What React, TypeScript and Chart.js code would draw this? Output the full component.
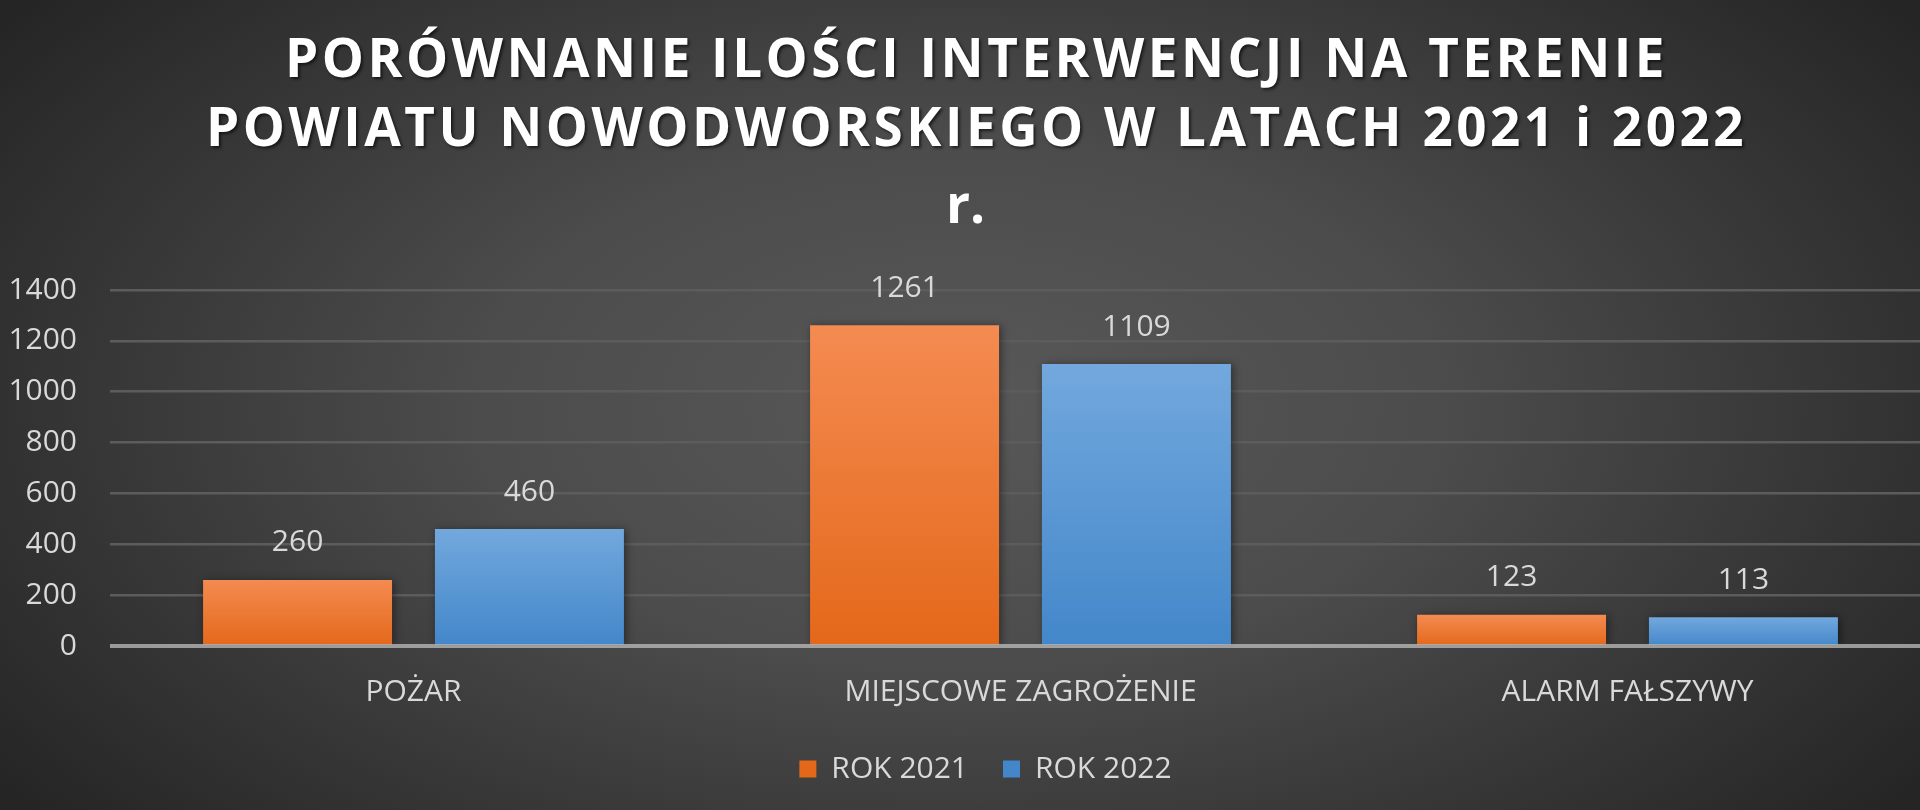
import React, { useEffect, useRef } from 'react'
import { Chart, registerables } from 'chart.js'

Chart.register(...registerables)

const categories = ['POŻAR', 'MIEJSCOWE ZAGROŻENIE', 'ALARM FAŁSZYWY']
const rok2021 = [260, 1261, 123]
const rok2022 = [460, 1109, 113]
const seriesNames = ['ROK 2021', 'ROK 2022']
const titleLines = ['PORÓWNANIE ILOŚCI INTERWENCJI NA TERENIE', 'POWIATU NOWODWORSKIEGO W LATACH 2021 i 2022']
const subtitleText = 'r.'

const FONT = "'Open Sans', 'DejaVu Sans', sans-serif"
const LABEL_COLOR = '#d9d9d9'

// each bar gets its own top-to-bottom gradient
const barGradient = (c: any, top: string, bottom: string, flat: string) => {
  const y = c.chart.scales?.y
  if (c.type !== 'data' || !y) return flat
  const y0 = y.getPixelForValue(c.raw)
  const y1 = y.getPixelForValue(0)
  if (!isFinite(y0) || !isFinite(y1) || y0 === y1) return flat
  const g = c.chart.ctx.createLinearGradient(0, y0, 0, y1)
  g.addColorStop(0, top)
  g.addColorStop(1, bottom)
  return g
}

// wrap a layout box's draw so it is nudged sideways (and optionally styled)
const shiftBox = (chart: any, box: any, dx: number, style?: (ctx: CanvasRenderingContext2D) => void) => {
  if (!box) return
  const orig = box.draw.bind(box)
  box.draw = (area: any) => {
    const ctx = chart.ctx
    ctx.save()
    ctx.translate(dx, 0)
    if (style) style(ctx)
    orig(area)
    ctx.restore()
  }
}

// spaced, shadowed title; soft shadow under the bars, zero line on top, value labels above
const barExtras = {
  id: 'barExtras',
  afterInit(chart: any) {
    shiftBox(chart, chart.titleBlock, 11, (ctx: any) => {
      ctx.letterSpacing = '3.5px'
      ctx.shadowColor = 'rgba(0,0,0,0.6)'
      ctx.shadowOffsetX = 2
      ctx.shadowOffsetY = 2
      ctx.shadowBlur = 3
    })
    shiftBox(chart, chart.legend, 20)
  },
  beforeDatasetsDraw(chart: any) {
    const ctx = chart.ctx
    ctx.save()
    ctx.shadowColor = 'rgba(0,0,0,0.45)'
    ctx.shadowBlur = 8
    ctx.shadowOffsetX = 2
    ctx.shadowOffsetY = 1
  },
  afterDatasetsDraw(chart: any) {
    const ctx = chart.ctx
    ctx.restore()
    const { left, right } = chart.chartArea
    const y0 = chart.scales.y.getPixelForValue(0)
    ctx.save()
    ctx.strokeStyle = 'rgba(190,190,190,0.75)'
    ctx.lineWidth = 4
    ctx.beginPath()
    ctx.moveTo(left, y0)
    ctx.lineTo(right, y0)
    ctx.stroke()
    ctx.font = `30px ${FONT}`
    ctx.fillStyle = LABEL_COLOR
    ctx.textAlign = 'center'
    ctx.textBaseline = 'middle'
    chart.data.datasets.forEach((ds: any, i: number) => {
      chart.getDatasetMeta(i).data.forEach((bar: any, j: number) => {
        ctx.fillText(String(ds.data[j]), bar.x, bar.y - 37)
      })
    })
    ctx.restore()
  },
}

const App = () => {
  const chartRef = useRef<HTMLCanvasElement>(null)

  useEffect(() => {
    if (!chartRef.current) return
    const ctx = chartRef.current.getContext('2d')
    if (!ctx) return

    const chart = new Chart(ctx, {
      type: 'bar',
      data: {
        labels: categories,
        datasets: [
          {
            label: seriesNames[0],
            data: rok2021,
            backgroundColor: (c: any) => barGradient(c, '#f48b51', '#e4681a', '#ef7a30'),
            categoryPercentage: 0.764,
            barPercentage: 0.815,
          },
          {
            label: seriesNames[1],
            data: rok2022,
            backgroundColor: (c: any) => barGradient(c, '#72a8dd', '#4387ca', '#5b98d4'),
            categoryPercentage: 0.764,
            barPercentage: 0.815,
          },
        ],
      },
      options: {
        animation: false,
        responsive: true,
        maintainAspectRatio: false,
        layout: { padding: { left: 0, right: 0, top: 0, bottom: 16 } },
        plugins: {
          title: {
            display: true,
            text: titleLines,
            color: '#ffffff',
            font: { family: FONT, size: 53, weight: 'bold', lineHeight: 69 / 53 },
            padding: { top: 27, bottom: 8.5 },
          },
          subtitle: {
            display: true,
            text: subtitleText,
            color: '#ffffff',
            font: { family: FONT, size: 53, weight: 'bold', lineHeight: 69 / 53 },
            padding: { top: 0, bottom: 47.5 },
          },
          legend: {
            position: 'bottom',
            labels: {
              color: LABEL_COLOR,
              font: { family: FONT, size: 30 },
              boxWidth: 17,
              boxHeight: 17,
              padding: 35,
            },
          },
          tooltip: { enabled: false },
        },
        scales: {
          x: {
            grid: { display: false },
            border: { display: false },
            ticks: { color: LABEL_COLOR, font: { family: FONT, size: 30 }, padding: 20 },
            afterFit: (scale: any) => { scale.height = 73 },
          },
          y: {
            min: 0,
            max: 1400,
            border: { display: false },
            grid: {
              drawTicks: false,
              color: (c: any) => (c.tick && c.tick.value === 0 ? 'rgba(0,0,0,0)' : '#5c5c5c'),
              lineWidth: 2.5,
            },
            ticks: {
              stepSize: 200,
              color: LABEL_COLOR,
              font: { family: FONT, size: 30 },
              padding: 33,
              callback: (v: any) => String(v),
            },
            afterFit: (scale: any) => { scale.width = 110 },
          },
        },
      },
      plugins: [barExtras],
    })

    return () => {
      chart.destroy()
    }
  }, [])

  return (
    <div
      style={{
        position: 'fixed',
        left: 0,
        top: 0,
        width: 1920,
        height: 810,
        overflow: 'hidden',
        background: 'radial-gradient(ellipse 62% 80% at 50% 50%, #585858 0%, #4c4c4c 40%, #353535 75%, #252525 100%)',
      }}
    >
      <div style={{ width: 1931, height: 810 }}>
        <canvas ref={chartRef} />
      </div>
    </div>
  )
}

export default App
